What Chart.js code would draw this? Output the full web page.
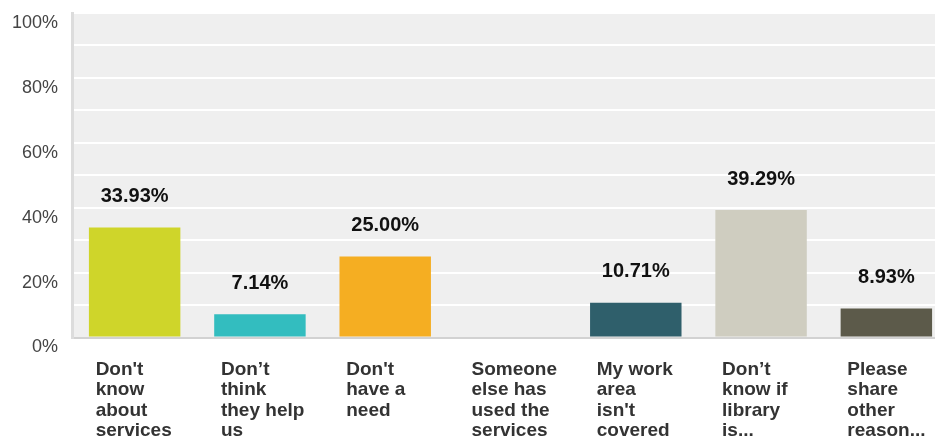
<!DOCTYPE html>
<html lang="en">
<head>
    <meta charset="UTF-8">
    <title>Reasons for not using services</title>
    <script src="https://cdn.jsdelivr.net/npm/chart.js@4.4.0/dist/chart.umd.min.js"></script>
    <style>
        html, body { margin: 0; padding: 0; background: #fff; overflow: hidden; }
        #wrap { position: relative; width: 950px; height: 470px; }
    </style>
</head>
<body>
    <div id="wrap"><canvas id="reasonsChart"></canvas></div>

    <script>
        // Answer choices, shown wrapped on several lines
        const categories = [
            ["Don't", "know", "about", "services"],
            ["Don\u2019t", "think", "they help", "us"],
            ["Don't", "have a", "need"],
            ["Someone", "else has", "used the", "services"],
            ["My work", "area", "isn't", "covered"],
            ["Don\u2019t", "know if", "library", "is..."],
            ["Please", "share", "other", "reason..."]
        ];
        const percentages = [33.93, 7.14, 25.00, 0, 10.71, 39.29, 8.93];
        const barColors = ['#cfd52a', '#33bdbf', '#f5ae22', '#8aa8a0', '#2f5f6b', '#cfcdc0', '#5c5a4a'];
        const yTicks = [0, 20, 40, 60, 80, 100];

        // grey plot background
        const plotBackground = {
            id: 'plotBackground',
            beforeDraw(chart) {
                const { ctx, chartArea: a } = chart;
                ctx.save();
                ctx.fillStyle = '#efefef';
                ctx.fillRect(a.left, a.top, a.right - a.left, a.bottom - a.top);
                ctx.restore();
            }
        };

        // percentage above each bar
        const valueLabels = {
            id: 'valueLabels',
            afterDatasetsDraw(chart) {
                const { ctx } = chart;
                const meta = chart.getDatasetMeta(0);
                ctx.save();
                ctx.font = 'bold 20px "Liberation Sans", Arial, sans-serif';
                ctx.fillStyle = '#111';
                ctx.textAlign = 'center';
                ctx.textBaseline = 'middle';
                meta.data.forEach(function(bar, i) {
                    if (!percentages[i]) return;
                    ctx.fillText(percentages[i].toFixed(2) + '%', bar.x, bar.y - 31);
                });
                ctx.restore();
            }
        };

        const ctx = document.getElementById('reasonsChart').getContext('2d');
        new Chart(ctx, {
            type: 'bar',
            data: {
                labels: categories,
                datasets: [{
                    data: percentages,
                    backgroundColor: barColors,
                    barPercentage: 0.73,
                    categoryPercentage: 1.0
                }]
            },
            options: {
                responsive: true,
                maintainAspectRatio: false,
                animation: false,
                layout: { padding: { top: 13, right: 1, left: 0, bottom: 0 } },
                plugins: {
                    legend: { display: false },
                    tooltip: { enabled: false }
                },
                scales: {
                    x: {
                        grid: { display: false },
                        border: { display: true, color: '#d2d2d2', width: 2 },
                        ticks: {
                            autoSkip: false,
                            maxRotation: 0,
                            minRotation: 0,
                            align: 'start',
                            labelOffset: -39,
                            padding: 14,
                            color: '#333',
                            font: { family: '"Liberation Sans", Arial, sans-serif', size: 19, weight: 'bold', lineHeight: '20.5px' }
                        },
                        afterFit(scale) {
                            scale.height = 470 - 337.5;
                            scale.paddingLeft = 0;
                            scale.paddingRight = 0;
                        }
                    },
                    y: {
                        min: 0,
                        max: 100,
                        grid: {
                            drawTicks: false,
                            lineWidth: 2,
                            color: c => c.tick && c.tick.value === 0 ? '#d2d2d2' : '#ffffff'
                        },
                        border: { display: true, color: '#dcdcdc', width: 3 },
                        ticks: {
                            stepSize: 10,
                            padding: 14,
                            labelOffset: 10,
                            color: '#444',
                            font: { family: '"Liberation Sans", Arial, sans-serif', size: 18 },
                            callback: v => yTicks.includes(v) ? v + '%' : ''
                        },
                        afterFit(scale) {
                            scale.width = 72;
                            scale.paddingTop = 0;
                            scale.paddingBottom = 0;
                        }
                    }
                }
            },
            plugins: [plotBackground, valueLabels]
        });
    </script>
</body>
</html>
